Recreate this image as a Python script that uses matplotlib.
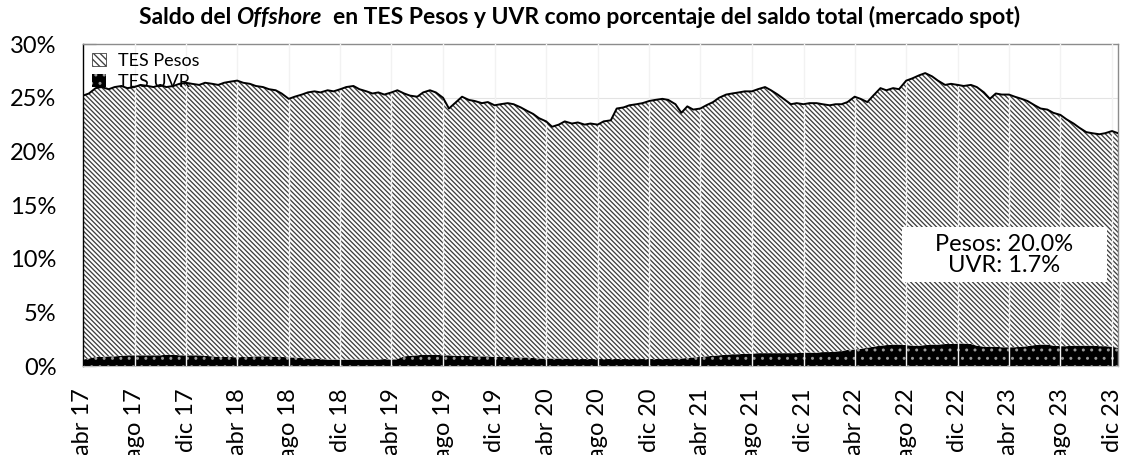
import matplotlib
matplotlib.use("Agg")
import matplotlib.pyplot as plt
from matplotlib.patches import Patch, Rectangle
import pandas as pd

plt.rcParams['font.family'] = ['Lato', 'DejaVu Sans']
plt.rcParams['hatch.linewidth'] = 0.95

# semi-monthly observations, abr 2017 - dic 2023 (% of total spot balance)
fechas = pd.date_range("2017-04-01", "2023-12-15", freq="SMS")

tes_pesos = [
    24.6, 24.7, 25.05, 25.15, 24.9, 25.1, 25.15, 24.9, 25.0, 25.2,
    25.1, 25.0, 25.2, 24.95, 25.05, 25.3, 25.4, 25.3, 25.2, 25.45,
    25.4, 25.35, 25.55, 25.65, 25.8, 25.55, 25.45, 25.2, 25.1, 24.9,
    24.85, 24.55, 24.1, 24.3, 24.55, 24.8, 24.9, 24.85, 25.1, 25.0,
    25.2, 25.4, 25.5, 25.2, 25.0, 24.8, 24.9, 24.65, 24.9, 25.05,
    24.5, 24.25, 24.1, 24.45, 24.65, 24.45, 24.0, 23.0, 23.65, 24.15,
    23.85, 23.8, 23.6, 23.7, 23.45, 23.55, 23.65, 23.6, 23.3, 23.0,
    22.75, 22.4, 22.1, 21.6, 21.8, 22.1, 21.95, 22.05, 21.85, 21.95,
    21.85, 22.15, 22.25, 23.35, 23.45, 23.65, 23.75, 23.85, 24.05, 24.15,
    24.25, 24.1, 23.7, 22.9, 23.45, 23.1, 23.15, 23.4, 23.65, 24.0,
    24.25, 24.3, 24.4, 24.45, 24.45, 24.6, 24.8, 24.5, 24.1, 23.7,
    23.2, 23.3, 23.15, 23.25, 23.25, 23.1, 23.0, 23.05, 23.0, 23.1,
    23.55, 23.3, 22.9, 23.4, 24.0, 23.75, 23.9, 23.8, 24.65, 24.9,
    25.2, 25.35, 25.0, 24.6, 24.15, 24.25, 24.1, 24.0, 24.15, 24.1,
    23.7, 23.1, 23.6, 23.55, 23.55, 23.35, 23.1, 22.85, 22.35, 22.0,
    21.9, 21.7, 21.55, 21.15, 20.7, 20.3, 19.9, 19.8, 19.75, 19.85,
    20.1, 20.0,
]

tes_uvr = [
    0.6, 0.7, 0.85, 0.85, 0.9, 0.9, 0.95, 1.0, 1.0, 1.0,
    1.0, 1.0, 1.0, 1.05, 1.05, 1.0, 1.0, 1.0, 1.0, 0.95,
    0.9, 0.85, 0.85, 0.85, 0.8, 0.85, 0.85, 0.9, 0.9, 0.9,
    0.85, 0.85, 0.8, 0.8, 0.75, 0.7, 0.7, 0.65, 0.6, 0.6,
    0.6, 0.6, 0.6, 0.6, 0.6, 0.6, 0.6, 0.65, 0.6, 0.65,
    0.9, 0.95, 1.0, 1.05, 1.05, 1.05, 1.0, 1.0, 0.95, 0.95,
    0.95, 0.9, 0.9, 0.9, 0.85, 0.85, 0.85, 0.8, 0.8, 0.8,
    0.75, 0.7, 0.7, 0.7, 0.7, 0.7, 0.65, 0.65, 0.65, 0.65,
    0.65, 0.65, 0.65, 0.65, 0.65, 0.65, 0.65, 0.65, 0.65, 0.65,
    0.65, 0.7, 0.7, 0.7, 0.75, 0.8, 0.85, 0.9, 0.95, 1.0,
    1.05, 1.1, 1.1, 1.15, 1.15, 1.2, 1.2, 1.2, 1.2, 1.2,
    1.2, 1.2, 1.25, 1.25, 1.25, 1.3, 1.3, 1.35, 1.4, 1.5,
    1.55, 1.6, 1.7, 1.8, 1.9, 1.95, 2.0, 2.0, 1.95, 1.9,
    1.9, 1.95, 2.0, 2.0, 2.05, 2.05, 2.1, 2.1, 2.05, 1.9,
    1.8, 1.8, 1.8, 1.75, 1.75, 1.75, 1.8, 1.85, 1.95, 2.0,
    2.0, 1.9, 1.85, 1.85, 1.9, 1.9, 1.9, 1.9, 1.85, 1.85,
    1.8, 1.7,
]

tick_fechas = pd.date_range("2017-04-01", "2023-12-01", freq="4MS")
tick_labels = [
    "abr 17", "ago 17", "dic 17", "abr 18", "ago 18", "dic 18", "abr 19",
    "ago 19", "dic 19", "abr 20", "ago 20", "dic 20", "abr 21", "ago 21",
    "dic 21", "abr 22", "ago 22", "dic 22", "abr 23", "ago 23", "dic 23",
]
y_ticks = [0, 5, 10, 15, 20, 25, 30]

total = [p + u for p, u in zip(tes_pesos, tes_uvr)]

HATCH_PESOS = '\\' * 7
HATCH_UVR = '..'

fig = plt.figure(figsize=(11.29, 4.55), dpi=100)
ax = fig.add_axes([0.0735, 0.1956, 0.9167, 0.7074])

# stacked areas: UVR at the bottom, Pesos on top
ax.fill_between(fechas, 0, tes_uvr, facecolor='black', edgecolor='#9a9a9a',
                hatch=HATCH_UVR, linewidth=0, zorder=2)
ax.fill_between(fechas, tes_uvr, total, facecolor='white', edgecolor='#404040',
                hatch=HATCH_PESOS, linewidth=0, zorder=2)
ax.plot(fechas, total, color='black', linewidth=1.4, zorder=4)

# light grid drawn over the fills
for t in tick_fechas[1:]:
    ax.axvline(t, color='#f2f2f2', linewidth=1.0, zorder=3)
for y in y_ticks[1:-1]:
    ax.axhline(y, color='#e3e3e3', linewidth=0.8, zorder=1)

ax.set_xlim(fechas[0], fechas[-1])
ax.set_ylim(0, 30)
ax.set_yticks(y_ticks)
ax.set_yticklabels([f"{v}%" for v in y_ticks], fontsize=17)
ax.set_xticks(tick_fechas)
ax.set_xticklabels(tick_labels, rotation=90, fontsize=17)
ax.tick_params(axis='y', direction='in', length=9, width=0.8, pad=19)
ax.tick_params(axis='x', length=0, pad=16)

for s in ['top', 'right']:
    ax.spines[s].set_color('#8c8c8c')
    ax.spines[s].set_linewidth(1.0)
ax.spines['left'].set_linewidth(1.0)
ax.spines['bottom'].set_color('#bfbfbf')

handles = [
    Patch(facecolor='white', edgecolor='#404040', hatch='\\' * 5, linewidth=0.6, label='TES Pesos'),
    Patch(facecolor='black', edgecolor='#9a9a9a', hatch=HATCH_UVR, linewidth=0, label='TES UVR'),
]
ax.legend(handles=handles, loc='upper left', frameon=False, fontsize=13,
          handlelength=0.75, handleheight=0.75, handletextpad=0.7,
          labelspacing=0.25, borderaxespad=0.2, borderpad=0.3)

# white box with the latest values
ax.add_patch(Rectangle((0.791, 0.261), 0.198, 0.171, transform=ax.transAxes,
                       facecolor='white', edgecolor='none', zorder=5))
ax.text(0.89, 0.344, f"Pesos: {tes_pesos[-1]:.1f}%\nUVR: {tes_uvr[-1]:.1f}%",
        transform=ax.transAxes, ha='center', va='center', fontsize=17,
        linespacing=1.0, zorder=6)

# title with italic "Offshore"
partes = [("Saldo del ", 'normal'), ("Offshore", 'italic'),
          ("  en TES Pesos y UVR como porcentaje del saldo total (mercado spot)", 'normal')]
renderer = fig.canvas.get_renderer()
textos = []
anchos = []
for s, estilo in partes:
    t = fig.text(0, 0.962, s, fontsize=16.5, fontweight='bold', style=estilo,
                 va='center', ha='left')
    textos.append(t)
    anchos.append(t.get_window_extent(renderer).width / fig.bbox.width)
x0 = 0.513 - sum(anchos) / 2
for t, w in zip(textos, anchos):
    t.set_x(x0)
    x0 += w

fig.savefig("out.png", dpi=100)
